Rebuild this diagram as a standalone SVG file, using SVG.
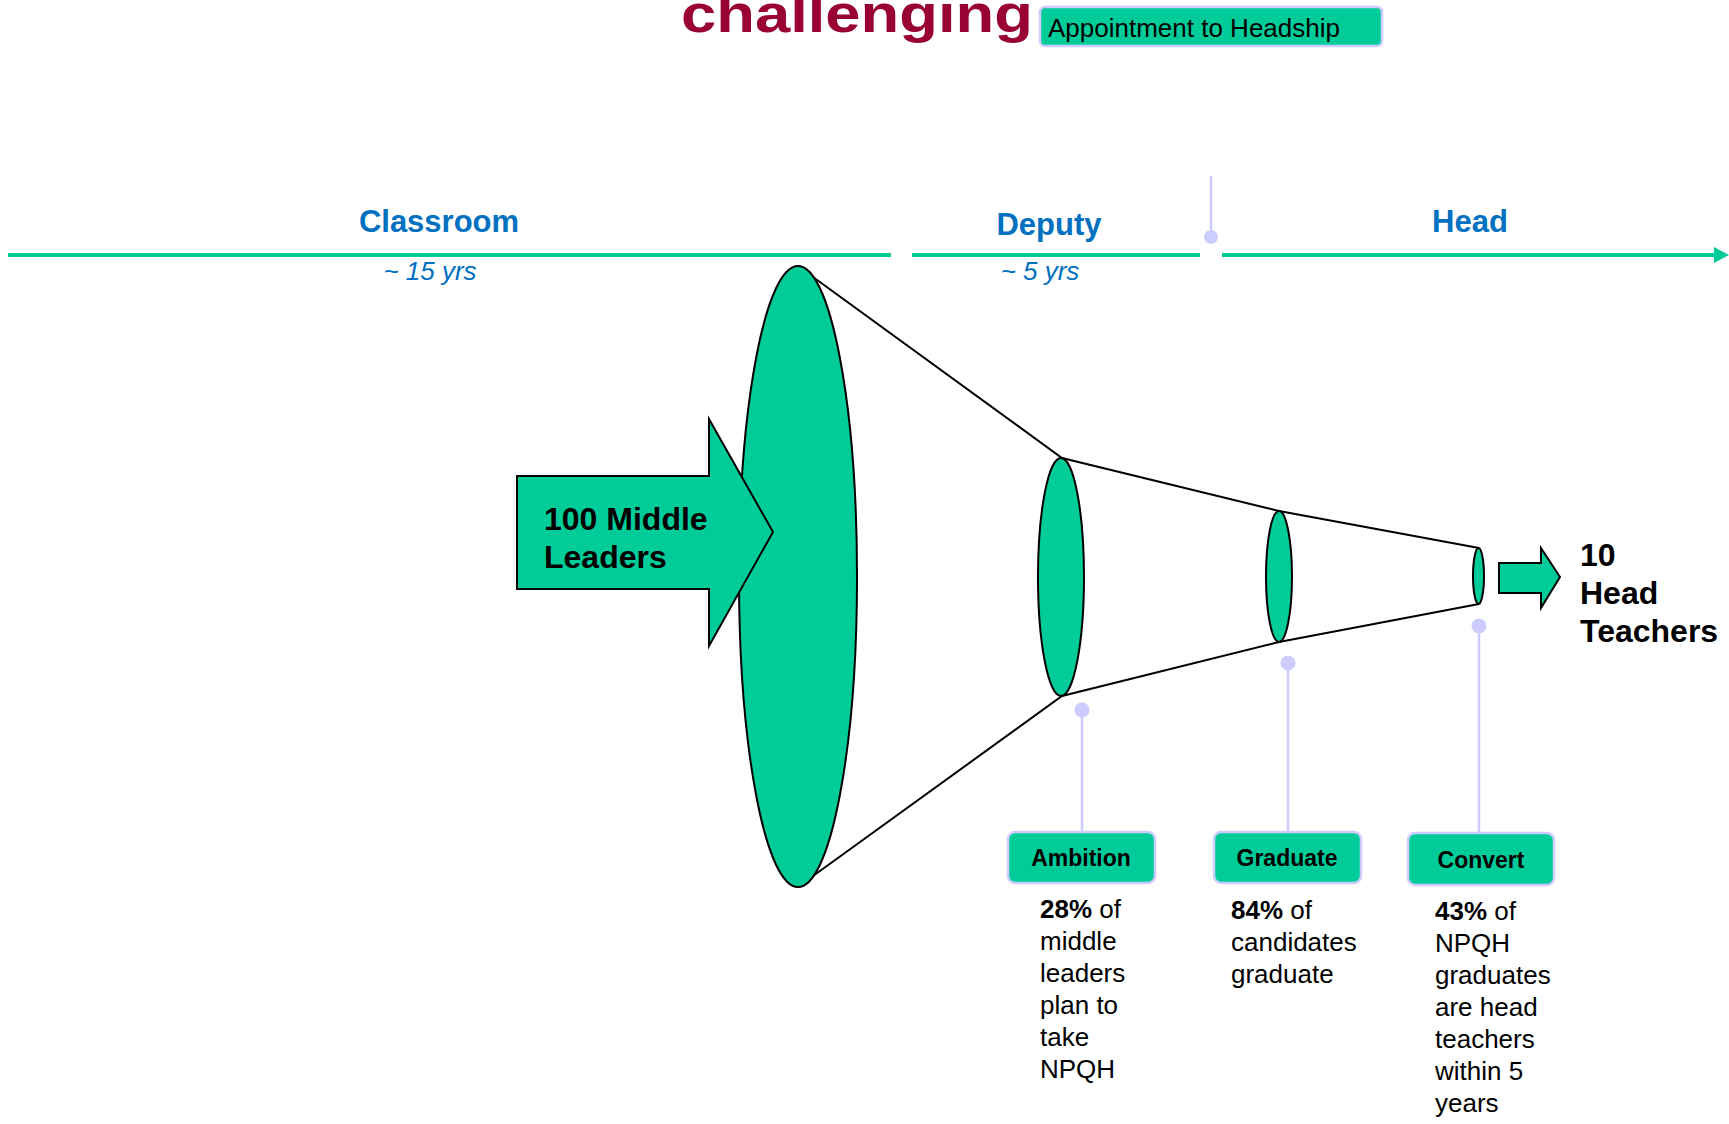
<svg xmlns="http://www.w3.org/2000/svg" width="1729" height="1124" viewBox="0 0 1729 1124">
<style>
.lbl{font-family:"Liberation Sans",Arial,sans-serif;font-weight:bold;font-size:31px;fill:#0070C0;text-anchor:middle}
.yrs{font-family:"Liberation Sans",Arial,sans-serif;font-style:italic;font-size:26px;fill:#0070C0;text-anchor:middle}
.big{font-family:"Liberation Sans",Arial,sans-serif;font-weight:bold;font-size:32px;fill:#000}
.tag{font-family:"Liberation Sans",Arial,sans-serif;font-weight:bold;font-size:23px;fill:#000;text-anchor:middle}
.desc{font-family:"Liberation Sans",Arial,sans-serif;font-size:26px;fill:#000}
.box{fill:#00CC99;stroke:#CCCCFF;stroke-width:2.5}
.fun{fill:#00CC99;stroke:#000;stroke-width:2}
.tl{stroke:#00CC99;stroke-width:4;fill:none}
.call{stroke:#CCCCFF;stroke-width:2.5;fill:none}
.dot{fill:#CCCCFF}
</style>
<rect width="1729" height="1124" fill="#fff"/>
<g id="title">
<text x="681" y="32" font-family="Liberation Sans,Arial,sans-serif" font-weight="bold" font-size="54" fill="#990033" textLength="352" lengthAdjust="spacingAndGlyphs">challenging</text>
</g>
<g id="appointment">
<rect x="1040" y="7" width="342" height="39" rx="5" class="box"/>
<text x="1048" y="37" font-family="Liberation Sans,Arial,sans-serif" font-size="26" fill="#000">Appointment to Headship</text>
</g>
<g id="connectors">
<line x1="8" y1="255" x2="891" y2="255" class="tl"/>
<line x1="912" y1="255" x2="1200" y2="255" class="tl"/>
<line x1="1222" y1="255" x2="1716" y2="255" class="tl"/>
<polygon points="1714,247 1729,255 1714,263" fill="#00CC99"/>
<line x1="1211" y1="176" x2="1211" y2="237" class="call"/>
<circle cx="1211" cy="237" r="7" class="dot"/>
<line x1="1082" y1="710" x2="1082" y2="832" class="call"/>
<circle cx="1082" cy="710" r="7.5" class="dot"/>
<line x1="1288" y1="663" x2="1288" y2="832" class="call"/>
<circle cx="1288" cy="663" r="7.5" class="dot"/>
<line x1="1479" y1="626" x2="1479" y2="832" class="call"/>
<circle cx="1479" cy="626" r="7.5" class="dot"/>
</g>
<g id="timeline-labels">
<text x="439" y="232" class="lbl">Classroom</text>
<text x="430" y="280" class="yrs">~ 15 yrs</text>
<text x="1049" y="235" class="lbl">Deputy</text>
<text x="1040" y="280" class="yrs">~ 5 yrs</text>
<text x="1470" y="232" class="lbl">Head</text>
</g>
<g id="funnel">
<polyline points="813,277 1062,458 1279,511 1479,548" fill="none" stroke="#000" stroke-width="2"/>
<polyline points="813,876 1062,696 1279,642 1479,604" fill="none" stroke="#000" stroke-width="2"/>
<ellipse cx="798" cy="576.5" rx="59" ry="310.5" class="fun"/>
<ellipse cx="1061" cy="577" rx="23" ry="119" class="fun"/>
<ellipse cx="1279" cy="576.5" rx="13" ry="65.5" class="fun"/>
<ellipse cx="1478.5" cy="576" rx="5.5" ry="28" class="fun"/>
</g>
<g id="input-arrow">
<polygon points="517,476 709,476 709,419 773,532 709,646 709,589 517,589" class="fun"/>
<text x="544" y="530" class="big">100 Middle</text>
<text x="544" y="568" class="big">Leaders</text>
</g>
<g id="output-arrow">
<polygon points="1499,563 1541,563 1541,548 1560,577 1541,608 1541,593 1499,593" class="fun"/>
<text x="1580" y="566" class="big">10</text>
<text x="1580" y="604" class="big">Head</text>
<text x="1580" y="642" class="big">Teachers</text>
</g>
<g id="ambition">
<rect x="1008" y="832" width="147" height="51" rx="7" class="box"/>
<text x="1081" y="866" class="tag">Ambition</text>
<text class="desc"><tspan x="1040" y="918"><tspan font-weight="bold">28%</tspan> of</tspan><tspan x="1040" y="950">middle</tspan><tspan x="1040" y="982">leaders</tspan><tspan x="1040" y="1014">plan to</tspan><tspan x="1040" y="1046">take</tspan><tspan x="1040" y="1078">NPQH</tspan></text>
</g>
<g id="graduate">
<rect x="1214" y="832" width="147" height="51" rx="7" class="box"/>
<text x="1287" y="866" class="tag">Graduate</text>
<text class="desc"><tspan x="1231" y="919"><tspan font-weight="bold">84%</tspan> of</tspan><tspan x="1231" y="951">candidates</tspan><tspan x="1231" y="983">graduate</tspan></text>
</g>
<g id="convert">
<rect x="1408" y="833" width="146" height="52" rx="7" class="box"/>
<text x="1481" y="868" class="tag">Convert</text>
<text class="desc"><tspan x="1435" y="920"><tspan font-weight="bold">43%</tspan> of</tspan><tspan x="1435" y="952">NPQH</tspan><tspan x="1435" y="984">graduates</tspan><tspan x="1435" y="1016">are head</tspan><tspan x="1435" y="1048">teachers</tspan><tspan x="1435" y="1080">within 5</tspan><tspan x="1435" y="1112">years</tspan></text>
</g>
</svg>
